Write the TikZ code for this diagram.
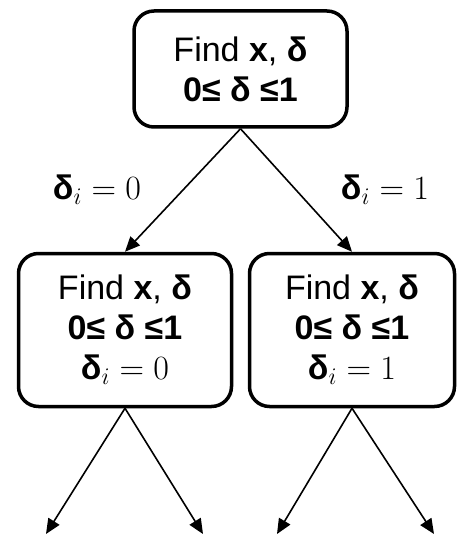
\RequirePackage{fix-cm}
\documentclass[tikz,border=0pt]{standalone}
\usepackage[no-math]{fontspec}
\setmainfont{Liberation Sans}
\usetikzlibrary{arrows.meta}
\newcommand{\bd}{\mbox{\bfseries δ}}
\begin{document}
\begin{tikzpicture}[x=1pt,y=-1pt,
  box/.style={draw,line width=3.5pt,rounded corners=20pt,align=center,inner sep=0pt,
    font=\fontsize{34}{40}\selectfont},
  lbl/.style={inner sep=0pt,font=\fontsize{34}{40}\selectfont},
  arr/.style={line width=1.6pt,-{Triangle[length=15pt,width=13pt]}}]
\useasboundingbox (0,0) rectangle (458,537);
\node[box,minimum width=213pt,minimum height=116pt] (top) at (240.5,69) {Find \textbf{x}, \textbf{δ}\\\textbf{0≤ δ ≤1}};
\node[box,minimum width=213pt,minimum height=153pt] (lc) at (125,330) {Find \textbf{x}, \textbf{δ}\\\textbf{0≤ δ ≤1}\\$\bd_i = 0$};
\node[box,minimum width=205pt,minimum height=153pt] (rc) at (352,330) {Find \textbf{x}, \textbf{δ}\\\textbf{0≤ δ ≤1}\\$\bd_i = 1$};
\node[lbl] (lab0) at (97,190) {$\bd_i = 0$};
\node[lbl] (lab1) at (385,190) {$\bd_i = 1$};
\coordinate (l1) at (46,534);
\coordinate (l2) at (203,534);
\coordinate (r1) at (277,534);
\coordinate (r2) at (434,534);
\draw[arr] (top.south) -- (lc.north);
\draw[arr] (top.south) -- (rc.north);
\draw[arr] (lc.south) -- (l1);
\draw[arr] (lc.south) -- (l2);
\draw[arr] (rc.south) -- (r1);
\draw[arr] (rc.south) -- (r2);
\end{tikzpicture}
\end{document}
